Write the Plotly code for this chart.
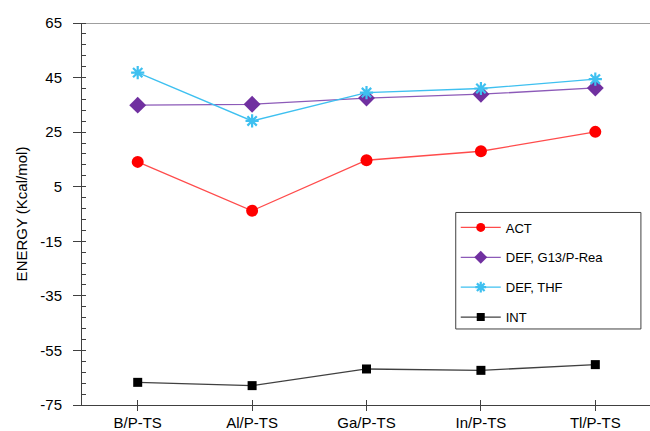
import plotly.graph_objects as go

# Transition-state systems along the x axis
categories = ["B/P-TS", "Al/P-TS", "Ga/P-TS", "In/P-TS", "Tl/P-TS"]

# Energy components (kcal/mol)
act = [14.1, -3.8, 14.7, 18.0, 25.1]
def_g13 = [34.9, 35.2, 37.5, 38.9, 41.2]
def_thf = [46.8, 29.1, 39.5, 41.0, 44.4]
int_e = [-66.7, -67.9, -61.8, -62.3, -60.2]

y_ticks = [65, 45, 25, 5, -15, -35, -55, -75]
y_tick_text = [str(v) for v in y_ticks]

font_family = "Liberation Sans, Arial, sans-serif"

# name, values, line colour, marker symbol, marker size, legend marker size, marker style
series = [
    ("ACT", act, "#FF4B4B", "circle", 12, 9, dict(color="#FF0000")),
    ("DEF, G13/P-Rea", def_g13, "#8C5AB8", "diamond", 13, 10, dict(color="#7030A0")),
    ("DEF, THF", def_thf, "#3EC0F0", "asterisk-open", 11, 9,
     dict(line=dict(color="#12A8E8", width=2.2))),
    ("INT", int_e, "#404040", "square", 9, 8, dict(color="#000000")),
]

fig = go.Figure()

for name, vals, lcolor, sym, size, lsize, mstyle in series:
    fig.add_trace(go.Scatter(
        x=categories, y=vals, name=name, mode="lines+markers",
        line=dict(color=lcolor, width=1.3),
        marker=dict(symbol=sym, size=size, **mstyle),
        showlegend=False,
    ))
    # legend entry with smaller symbol
    fig.add_trace(go.Scatter(
        x=[None], y=[None], name=name, mode="lines+markers",
        line=dict(color=lcolor, width=1.3),
        marker=dict(symbol=sym, size=lsize, **mstyle),
        legendgroup=name, showlegend=True,
    ))

fig.update_layout(
    width=650, height=431,
    margin=dict(l=82, r=0, t=23, b=26),
    paper_bgcolor="white", plot_bgcolor="white",
    font=dict(family=font_family, color="#000000"),
    showlegend=True,
    legend=dict(
        x=0.658, y=0.504, xanchor="left", yanchor="top",
        borderwidth=0, bgcolor="rgba(0,0,0,0)",
        font=dict(size=13, family=font_family),
        tracegroupgap=10, itemwidth=40,
    ),
    xaxis=dict(
        type="category", range=[-0.487, 4.478], automargin=False,
        showline=True, linecolor="#404040", linewidth=1,
        ticks="inside", ticklen=5, tickcolor="#404040",
        tickfont=dict(size=15), showgrid=False, zeroline=False,
        ticklabelstandoff=4,
    ),
    xaxis2=dict(
        type="category", range=[-0.487, 4.478], overlaying="x",
        anchor="y", side="bottom", automargin=False,
        ticks="outside", ticklen=5, tickcolor="#404040",
        showticklabels=False, showgrid=False, zeroline=False,
        tickvals=categories,
    ),
    yaxis=dict(
        range=[-75, 65], tickvals=y_ticks, ticktext=y_tick_text,
        automargin=False,
        showline=True, linecolor="#404040", linewidth=1,
        ticks="outside", ticklen=8, tickcolor="#404040",
        tickfont=dict(size=15), showgrid=False, zeroline=False,
        ticklabelstandoff=8,
        minor=dict(dtick=4, tick0=-75, ticks="inside", ticklen=4,
                   tickcolor="#404040", showgrid=False),
        title=dict(text="ENERGY (Kcal/mol)", font=dict(size=15), standoff=9),
    ),
)

# invisible trace to activate the second x axis (downward ticks)
fig.add_trace(go.Scatter(x=categories, y=[None] * len(categories), xaxis="x2",
                         showlegend=False, hoverinfo="skip", mode="lines"))

# top border of the plot area
fig.add_shape(type="line", xref="paper", yref="y", x0=0, x1=1, y0=65, y1=65,
              line=dict(color="#404040", width=1))

# legend frame
fig.add_shape(type="rect", xref="paper", yref="paper",
              x0=0.658, x1=0.984, y0=0.199, y1=0.504,
              line=dict(color="#404040", width=1), fillcolor="white",
              layer="above")

fig.write_html("out.html")
